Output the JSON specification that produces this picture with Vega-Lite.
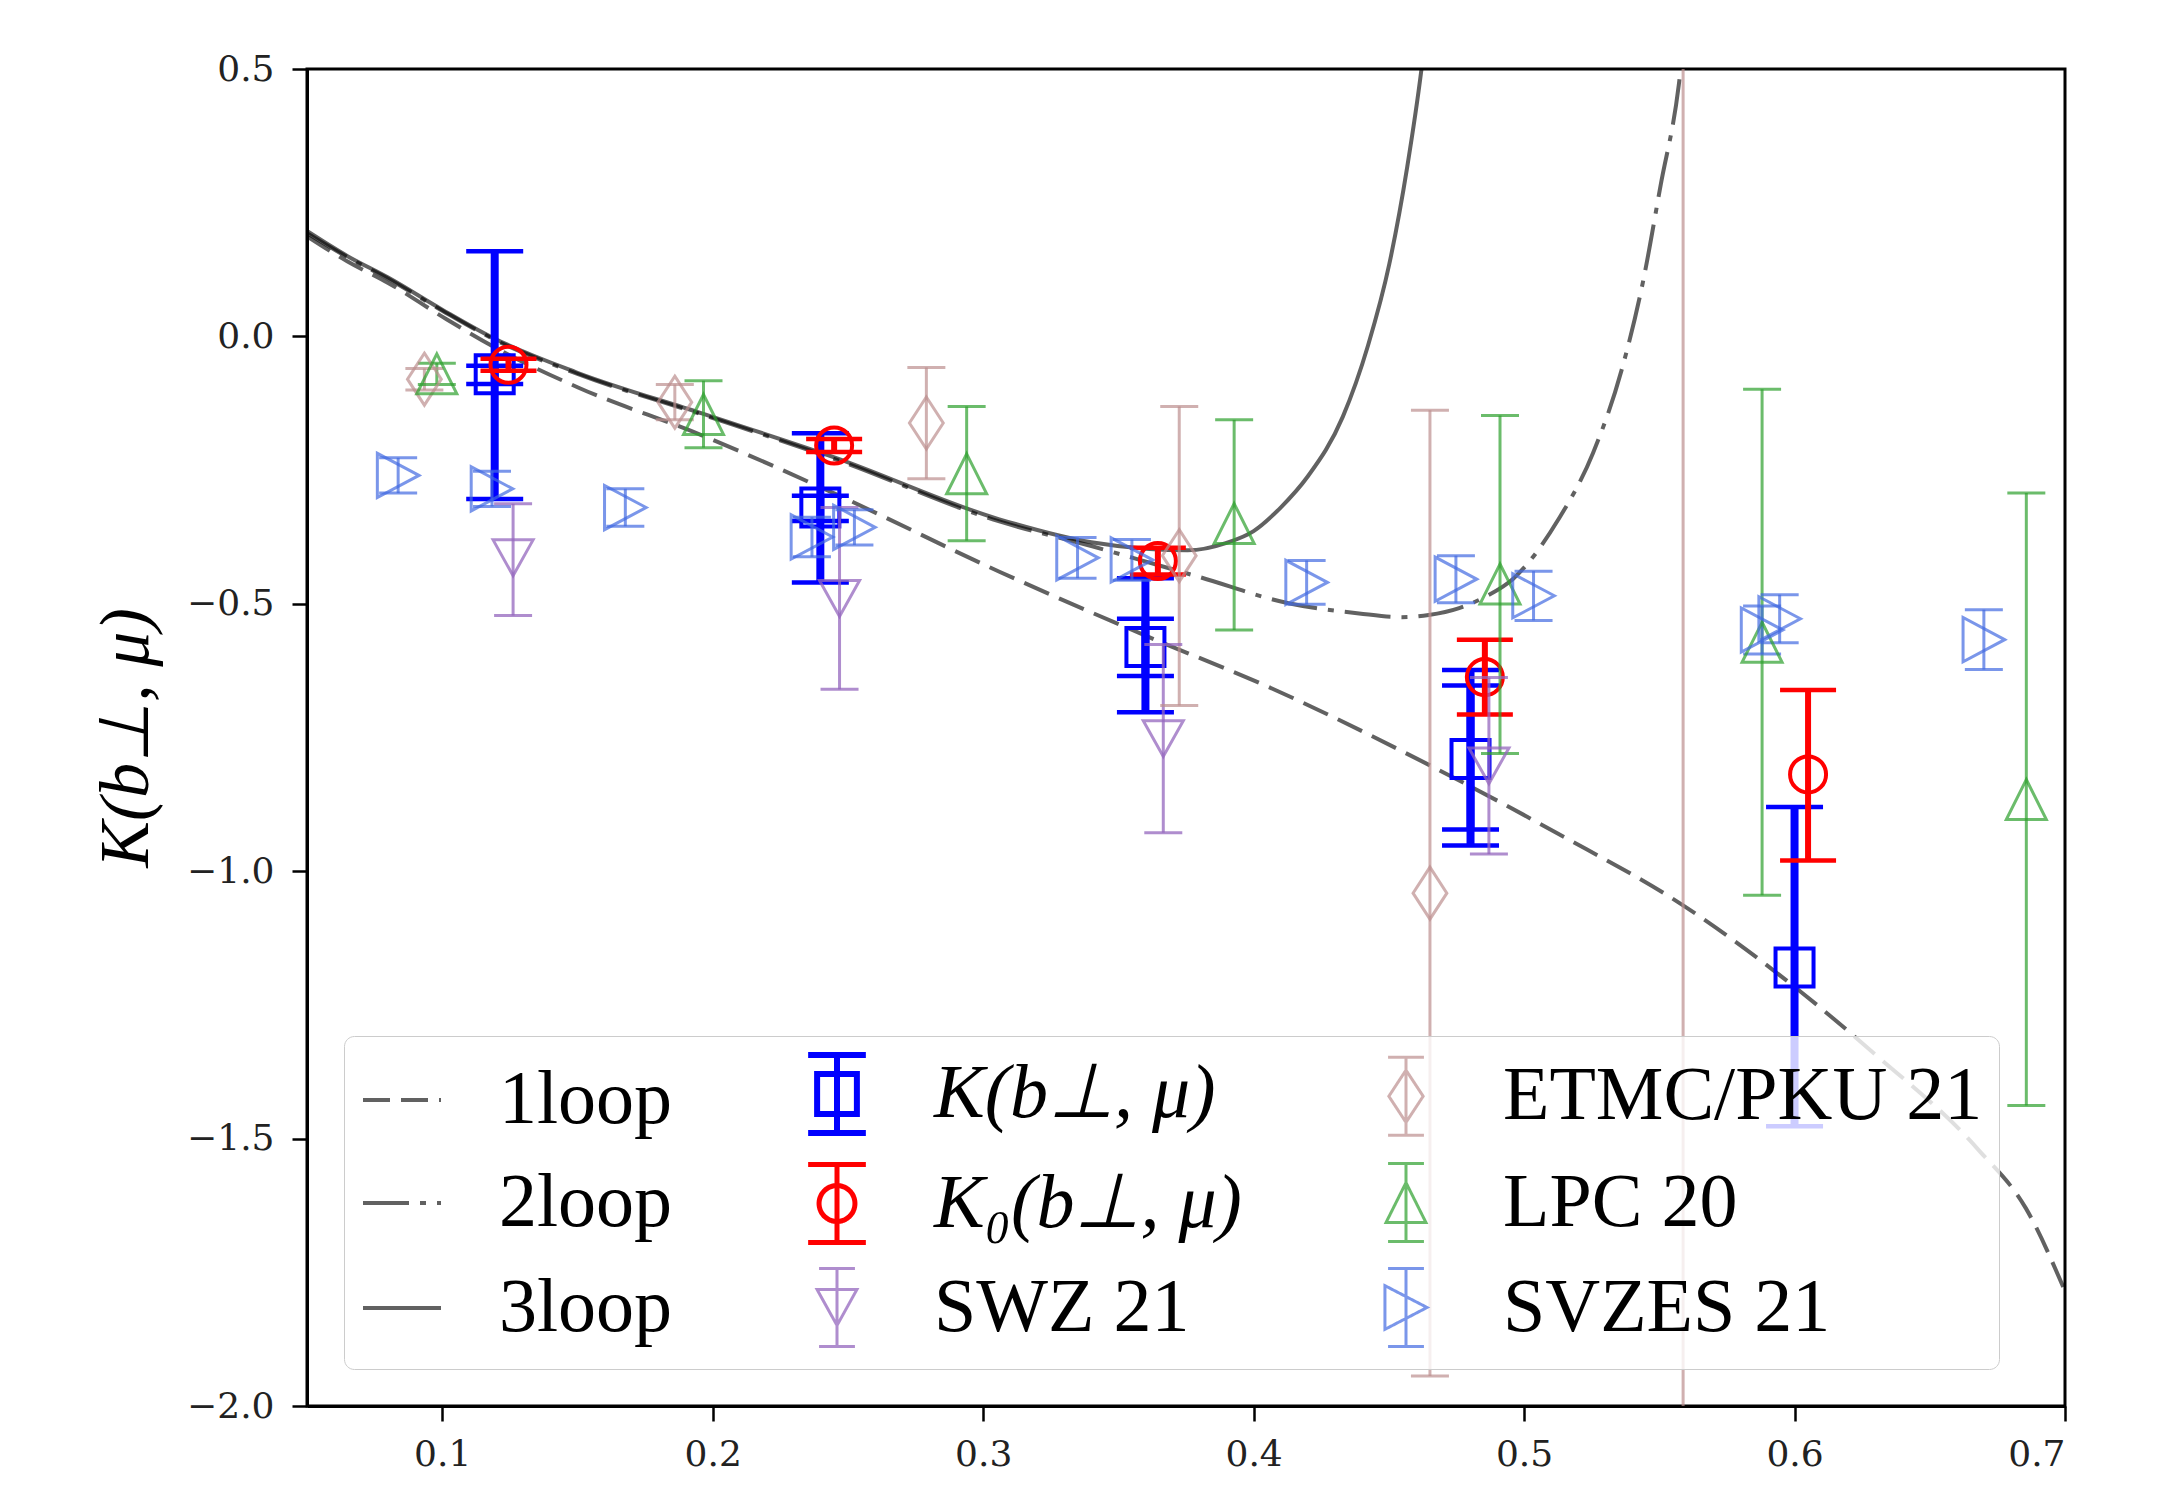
{
  "$schema": "https://vega.github.io/schema/vega-lite/v6.json",
  "width": 1758,
  "height": 1337,
  "autosize": {"type": "none"},
  "padding": {"left": 307, "top": 69, "right": 103, "bottom": 84},
  "background": "white",
  "config": {
    "view": {"stroke": "black", "strokeWidth": 3},
    "axis": {"grid": false, "domainColor": "black", "domainWidth": 3, "tickColor": "black", "tickWidth": 2.5, "tickSize": 15, "labelFont": "DejaVu Serif", "labelFontSize": 36, "labelColor": "#222222", "labelPadding": 18},
    "axisY": {"titleFont": "Liberation Serif", "titleFontSize": 70, "titleFontStyle": "italic", "titleFontWeight": "normal", "titleColor": "black", "titlePadding": 24},
    "axisX": {"labelPadding": 16},
    "legend": {
      "orient": "bottom-left",
      "offset": 37,
      "columns": 3,
      "padding": 16,
      "rowPadding": 9,
      "columnPadding": 122,
      "symbolSize": 6084,
      "symbolStrokeWidth": 3,
      "symbolFillColor": "transparent",
      "labelFont": "Liberation Serif",
      "labelFontSize": 76,
      "labelColor": "black",
      "labelOffset": 55,
      "labelLimit": 1000,
      "fillColor": "rgba(255,255,255,0.8)",
      "strokeColor": "#cccccc",
      "cornerRadius": 10
    }
  },
  "datasets": {
    "points": [
      {"series": "K(b⊥, μ)", "b": 0.1194, "K": -0.071, "lo": -0.304, "hi": 0.159, "lo2": -0.089, "hi2": -0.055},
      {"series": "K(b⊥, μ)", "b": 0.2398, "K": -0.320, "lo": -0.460, "hi": -0.181, "lo2": -0.345, "hi2": -0.298},
      {"series": "K(b⊥, μ)", "b": 0.3600, "K": -0.581, "lo": -0.703, "hi": -0.452, "lo2": -0.635, "hi2": -0.528},
      {"series": "K(b⊥, μ)", "b": 0.4802, "K": -0.790, "lo": -0.952, "hi": -0.624, "lo2": -0.922, "hi2": -0.653},
      {"series": "K(b⊥, μ)", "b": 0.6000, "K": -1.180, "lo": -1.477, "hi": -0.880},
      {"series": "K₀(b⊥, μ)", "b": 0.1245, "K": -0.053, "lo": -0.064, "hi": -0.042},
      {"series": "K₀(b⊥, μ)", "b": 0.2449, "K": -0.204, "lo": -0.216, "hi": -0.192},
      {"series": "K₀(b⊥, μ)", "b": 0.3646, "K": -0.420, "lo": -0.445, "hi": -0.395},
      {"series": "K₀(b⊥, μ)", "b": 0.4855, "K": -0.637, "lo": -0.707, "hi": -0.567},
      {"series": "K₀(b⊥, μ)", "b": 0.6050, "K": -0.819, "lo": -0.980, "hi": -0.661},
      {"series": "SWZ 21", "b": 0.1262, "K": -0.414, "lo": -0.522, "hi": -0.313},
      {"series": "SWZ 21", "b": 0.2469, "K": -0.490, "lo": -0.660, "hi": -0.320},
      {"series": "SWZ 21", "b": 0.3666, "K": -0.752, "lo": -0.928, "hi": -0.576},
      {"series": "SWZ 21", "b": 0.4870, "K": -0.803, "lo": -0.968, "hi": -0.638},
      {"series": "ETMC/PKU 21", "b": 0.0934, "K": -0.080, "lo": -0.100, "hi": -0.060},
      {"series": "ETMC/PKU 21", "b": 0.1860, "K": -0.123, "lo": -0.156, "hi": -0.090},
      {"series": "ETMC/PKU 21", "b": 0.2790, "K": -0.162, "lo": -0.266, "hi": -0.058},
      {"series": "ETMC/PKU 21", "b": 0.3725, "K": -0.410, "lo": -0.690, "hi": -0.131},
      {"series": "ETMC/PKU 21", "b": 0.4652, "K": -1.041, "lo": -1.944, "hi": -0.138},
      {"series": "ETMC/PKU 21", "b": 0.5588, "K": -2.300, "lo": -5.500, "hi": 0.900},
      {"series": "LPC 20", "b": 0.0980, "K": -0.070, "lo": -0.090, "hi": -0.050},
      {"series": "LPC 20", "b": 0.1966, "K": -0.146, "lo": -0.208, "hi": -0.083},
      {"series": "LPC 20", "b": 0.2939, "K": -0.257, "lo": -0.382, "hi": -0.131},
      {"series": "LPC 20", "b": 0.3928, "K": -0.350, "lo": -0.549, "hi": -0.156},
      {"series": "LPC 20", "b": 0.4911, "K": -0.463, "lo": -0.780, "hi": -0.148},
      {"series": "LPC 20", "b": 0.5880, "K": -0.572, "lo": -1.045, "hi": -0.099},
      {"series": "LPC 20", "b": 0.6857, "K": -0.866, "lo": -1.438, "hi": -0.293},
      {"series": "SVZES 21", "b": 0.0837, "K": -0.260, "lo": -0.293, "hi": -0.227},
      {"series": "SVZES 21", "b": 0.1184, "K": -0.285, "lo": -0.318, "hi": -0.252},
      {"series": "SVZES 21", "b": 0.1677, "K": -0.320, "lo": -0.355, "hi": -0.285},
      {"series": "SVZES 21", "b": 0.2367, "K": -0.375, "lo": -0.412, "hi": -0.338},
      {"series": "SVZES 21", "b": 0.2524, "K": -0.357, "lo": -0.390, "hi": -0.324},
      {"series": "SVZES 21", "b": 0.3349, "K": -0.414, "lo": -0.452, "hi": -0.376},
      {"series": "SVZES 21", "b": 0.3550, "K": -0.418, "lo": -0.456, "hi": -0.380},
      {"series": "SVZES 21", "b": 0.4196, "K": -0.460, "lo": -0.501, "hi": -0.419},
      {"series": "SVZES 21", "b": 0.4748, "K": -0.454, "lo": -0.498, "hi": -0.410},
      {"series": "SVZES 21", "b": 0.5035, "K": -0.485, "lo": -0.531, "hi": -0.439},
      {"series": "SVZES 21", "b": 0.5880, "K": -0.549, "lo": -0.594, "hi": -0.504},
      {"series": "SVZES 21", "b": 0.5945, "K": -0.528, "lo": -0.573, "hi": -0.483},
      {"series": "SVZES 21", "b": 0.6700, "K": -0.567, "lo": -0.623, "hi": -0.511}
    ],
    "curves": [
      {"series": "1loop", "b": 0.050, "K": 0.187},
      {"series": "1loop", "b": 0.065, "K": 0.140},
      {"series": "1loop", "b": 0.080, "K": 0.100},
      {"series": "1loop", "b": 0.100, "K": 0.037},
      {"series": "1loop", "b": 0.1185, "K": -0.018},
      {"series": "1loop", "b": 0.150, "K": -0.095},
      {"series": "1loop", "b": 0.196, "K": -0.185},
      {"series": "1loop", "b": 0.2455, "K": -0.295},
      {"series": "1loop", "b": 0.306, "K": -0.440},
      {"series": "1loop", "b": 0.3607, "K": -0.561},
      {"series": "1loop", "b": 0.4053, "K": -0.655},
      {"series": "1loop", "b": 0.4655, "K": -0.803},
      {"series": "1loop", "b": 0.5126, "K": -0.930},
      {"series": "1loop", "b": 0.5585, "K": -1.063},
      {"series": "1loop", "b": 0.6017, "K": -1.223},
      {"series": "1loop", "b": 0.629, "K": -1.339},
      {"series": "1loop", "b": 0.668, "K": -1.521},
      {"series": "1loop", "b": 0.6855, "K": -1.630},
      {"series": "1loop", "b": 0.700, "K": -1.785},
      {"series": "2loop", "b": 0.050, "K": 0.193},
      {"series": "2loop", "b": 0.065, "K": 0.148},
      {"series": "2loop", "b": 0.080, "K": 0.108},
      {"series": "2loop", "b": 0.100, "K": 0.048},
      {"series": "2loop", "b": 0.1185, "K": -0.004},
      {"series": "2loop", "b": 0.150, "K": -0.070},
      {"series": "2loop", "b": 0.196, "K": -0.146},
      {"series": "2loop", "b": 0.2455, "K": -0.230},
      {"series": "2loop", "b": 0.306, "K": -0.346},
      {"series": "2loop", "b": 0.340, "K": -0.392},
      {"series": "2loop", "b": 0.356, "K": -0.415},
      {"series": "2loop", "b": 0.380, "K": -0.450},
      {"series": "2loop", "b": 0.4129, "K": -0.499},
      {"series": "2loop", "b": 0.439, "K": -0.518},
      {"series": "2loop", "b": 0.4548, "K": -0.525},
      {"series": "2loop", "b": 0.4647, "K": -0.521},
      {"series": "2loop", "b": 0.476, "K": -0.508},
      {"series": "2loop", "b": 0.486, "K": -0.486},
      {"series": "2loop", "b": 0.496, "K": -0.453},
      {"series": "2loop", "b": 0.5126, "K": -0.343},
      {"series": "2loop", "b": 0.5255, "K": -0.218},
      {"series": "2loop", "b": 0.536, "K": -0.064},
      {"series": "2loop", "b": 0.544, "K": 0.103},
      {"series": "2loop", "b": 0.5505, "K": 0.283},
      {"series": "2loop", "b": 0.5572, "K": 0.470},
      {"series": "2loop", "b": 0.559, "K": 0.550},
      {"series": "3loop", "b": 0.050, "K": 0.197},
      {"series": "3loop", "b": 0.065, "K": 0.150},
      {"series": "3loop", "b": 0.080, "K": 0.110},
      {"series": "3loop", "b": 0.100, "K": 0.050},
      {"series": "3loop", "b": 0.1185, "K": -0.002},
      {"series": "3loop", "b": 0.150, "K": -0.068},
      {"series": "3loop", "b": 0.196, "K": -0.144},
      {"series": "3loop", "b": 0.2455, "K": -0.227},
      {"series": "3loop", "b": 0.306, "K": -0.342},
      {"series": "3loop", "b": 0.340, "K": -0.385},
      {"series": "3loop", "b": 0.360, "K": -0.397},
      {"series": "3loop", "b": 0.3756, "K": -0.400},
      {"series": "3loop", "b": 0.390, "K": -0.386},
      {"series": "3loop", "b": 0.400, "K": -0.364},
      {"series": "3loop", "b": 0.410, "K": -0.320},
      {"series": "3loop", "b": 0.420, "K": -0.262},
      {"series": "3loop", "b": 0.433, "K": -0.150},
      {"series": "3loop", "b": 0.4423, "K": -0.017},
      {"series": "3loop", "b": 0.4502, "K": 0.136},
      {"series": "3loop", "b": 0.4568, "K": 0.317},
      {"series": "3loop", "b": 0.462, "K": 0.497},
      {"series": "3loop", "b": 0.4635, "K": 0.560}
    ]
  },
  "encoding": {
    "x": {"field": "b", "type": "quantitative", "scale": {"domain": [0.05, 0.7], "nice": false, "zero": false}, "axis": {"values": [0.1, 0.2, 0.3, 0.4, 0.5, 0.6, 0.7], "format": ".1f", "title": null}}
  },
  "layer": [
    {
      "data": {"name": "curves"},
      "transform": [{"filter": "datum.series == '1loop'"}],
      "mark": {"type": "line", "strokeWidth": 4, "strokeDash": [27, 11], "clip": true, "interpolate": "monotone"},
      "encoding": {
        "y": {"field": "K", "type": "quantitative", "scale": {"domain": [-2, 0.5], "nice": false, "zero": false}, "axis": {"values": [-2, -1.5, -1, -0.5, 0, 0.5], "format": ".1f"}, "title": "K(b⊥, μ)"},
        "color": {"field": "series", "type": "nominal",
          "legend": {"title": null, "encode": {"labels": {"update": {"fontStyle": {"signal": "indexof(datum.value, 'K') == 0 ? 'italic' : 'normal'"}}}}},
          "scale": {"domain": ["1loop", "2loop", "3loop", "K(b⊥, μ)", "K₀(b⊥, μ)", "SWZ 21", "ETMC/PKU 21", "LPC 20", "SVZES 21"],
                    "range": ["rgba(0,0,0,0.62)", "rgba(0,0,0,0.62)", "rgba(0,0,0,0.62)", "#0000ff", "#ff0000", "rgba(148,103,189,0.75)", "rgba(188,143,143,0.7)", "rgba(44,160,44,0.7)", "rgba(65,105,225,0.7)"]}}
      }
    },
    {
      "data": {"name": "curves"},
      "transform": [{"filter": "datum.series == '2loop'"}],
      "mark": {"type": "line", "strokeWidth": 4, "strokeDash": [46, 11, 6, 11], "clip": true, "interpolate": "monotone"},
      "encoding": {
        "y": {"field": "K", "type": "quantitative", "scale": {"domain": [-2, 0.5], "nice": false, "zero": false}, "title": "K(b⊥, μ)"},
        "color": {"field": "series", "type": "nominal", "legend": {"title": null},
          "scale": {"domain": ["1loop", "2loop", "3loop", "K(b⊥, μ)", "K₀(b⊥, μ)", "SWZ 21", "ETMC/PKU 21", "LPC 20", "SVZES 21"],
                    "range": ["rgba(0,0,0,0.62)", "rgba(0,0,0,0.62)", "rgba(0,0,0,0.62)", "#0000ff", "#ff0000", "rgba(148,103,189,0.75)", "rgba(188,143,143,0.7)", "rgba(44,160,44,0.7)", "rgba(65,105,225,0.7)"]}}
      }
    },
    {
      "data": {"name": "curves"},
      "transform": [{"filter": "datum.series == '3loop'"}],
      "mark": {"type": "line", "strokeWidth": 4, "clip": true, "interpolate": "monotone"},
      "encoding": {
        "y": {"field": "K", "type": "quantitative", "scale": {"domain": [-2, 0.5], "nice": false, "zero": false}, "title": "K(b⊥, μ)"},
        "color": {"field": "series", "type": "nominal", "legend": {"title": null},
          "scale": {"domain": ["1loop", "2loop", "3loop", "K(b⊥, μ)", "K₀(b⊥, μ)", "SWZ 21", "ETMC/PKU 21", "LPC 20", "SVZES 21"],
                    "range": ["rgba(0,0,0,0.62)", "rgba(0,0,0,0.62)", "rgba(0,0,0,0.62)", "#0000ff", "#ff0000", "rgba(148,103,189,0.75)", "rgba(188,143,143,0.7)", "rgba(44,160,44,0.7)", "rgba(65,105,225,0.7)"]}}
      }
    },
    {
      "data": {"name": "points"},
      "transform": [{"filter": "datum.series == 'K(b⊥, μ)'"}],
      "mark": {"type": "rule", "strokeWidth": 8, "color": "#0000ff", "clip": true},
      "encoding": {"y": {"field": "lo", "type": "quantitative", "scale": {"domain": [-2, 0.5], "nice": false, "zero": false}, "title": "K(b⊥, μ)"}, "y2": {"field": "hi"}}
    },
    {
      "data": {"name": "points"},
      "transform": [{"filter": "datum.series == 'K(b⊥, μ)' && isValid(datum.lo2)"}],
      "mark": {"type": "rule", "strokeWidth": 8, "color": "#0000ff", "clip": true},
      "encoding": {"y": {"field": "lo2", "type": "quantitative", "scale": {"domain": [-2, 0.5], "nice": false, "zero": false}, "title": "K(b⊥, μ)"}, "y2": {"field": "hi2"}}
    },
    {
      "data": {"name": "points"},
      "transform": [{"filter": "datum.series == 'K(b⊥, μ)'"}],
      "mark": {"type": "tick", "orient": "horizontal", "size": 57, "thickness": 4.5, "color": "#0000ff", "opacity": 1, "clip": true},
      "encoding": {"y": {"field": "lo", "type": "quantitative", "scale": {"domain": [-2, 0.5], "nice": false, "zero": false}, "title": "K(b⊥, μ)"}}
    },
    {
      "data": {"name": "points"},
      "transform": [{"filter": "datum.series == 'K(b⊥, μ)'"}],
      "mark": {"type": "tick", "orient": "horizontal", "size": 57, "thickness": 4.5, "color": "#0000ff", "opacity": 1, "clip": true},
      "encoding": {"y": {"field": "hi", "type": "quantitative", "scale": {"domain": [-2, 0.5], "nice": false, "zero": false}, "title": "K(b⊥, μ)"}}
    },
    {
      "data": {"name": "points"},
      "transform": [{"filter": "datum.series == 'K(b⊥, μ)' && isValid(datum.lo2)"}],
      "mark": {"type": "tick", "orient": "horizontal", "size": 57, "thickness": 4.5, "color": "#0000ff", "opacity": 1, "clip": true},
      "encoding": {"y": {"field": "lo2", "type": "quantitative", "scale": {"domain": [-2, 0.5], "nice": false, "zero": false}, "title": "K(b⊥, μ)"}}
    },
    {
      "data": {"name": "points"},
      "transform": [{"filter": "datum.series == 'K(b⊥, μ)' && isValid(datum.hi2)"}],
      "mark": {"type": "tick", "orient": "horizontal", "size": 57, "thickness": 4.5, "color": "#0000ff", "opacity": 1, "clip": true},
      "encoding": {"y": {"field": "hi2", "type": "quantitative", "scale": {"domain": [-2, 0.5], "nice": false, "zero": false}, "title": "K(b⊥, μ)"}}
    },
    {
      "data": {"name": "points"},
      "transform": [{"filter": "datum.series == 'K(b⊥, μ)'"}],
      "mark": {"type": "point", "shape": "square", "size": 1444, "strokeWidth": 4, "filled": false, "color": "#0000ff", "opacity": 1, "clip": true},
      "encoding": {"y": {"field": "K", "type": "quantitative", "scale": {"domain": [-2, 0.5], "nice": false, "zero": false}, "title": "K(b⊥, μ)"}}
    },
    {
      "data": {"name": "points"},
      "transform": [{"filter": "datum.series == 'K₀(b⊥, μ)'"}],
      "mark": {"type": "rule", "strokeWidth": 6, "color": "#ff0000", "clip": true},
      "encoding": {"y": {"field": "lo", "type": "quantitative", "scale": {"domain": [-2, 0.5], "nice": false, "zero": false}, "title": "K(b⊥, μ)"}, "y2": {"field": "hi"}}
    },
    {
      "data": {"name": "points"},
      "transform": [{"filter": "datum.series == 'K₀(b⊥, μ)'"}],
      "mark": {"type": "tick", "orient": "horizontal", "size": 56, "thickness": 4.5, "color": "#ff0000", "opacity": 1, "clip": true},
      "encoding": {"y": {"field": "lo", "type": "quantitative", "scale": {"domain": [-2, 0.5], "nice": false, "zero": false}, "title": "K(b⊥, μ)"}}
    },
    {
      "data": {"name": "points"},
      "transform": [{"filter": "datum.series == 'K₀(b⊥, μ)'"}],
      "mark": {"type": "tick", "orient": "horizontal", "size": 56, "thickness": 4.5, "color": "#ff0000", "opacity": 1, "clip": true},
      "encoding": {"y": {"field": "hi", "type": "quantitative", "scale": {"domain": [-2, 0.5], "nice": false, "zero": false}, "title": "K(b⊥, μ)"}}
    },
    {
      "data": {"name": "points"},
      "transform": [{"filter": "datum.series == 'K₀(b⊥, μ)'"}],
      "mark": {"type": "point", "shape": "circle", "size": 1296, "strokeWidth": 4, "filled": false, "color": "#ff0000", "opacity": 1, "clip": true},
      "encoding": {"y": {"field": "K", "type": "quantitative", "scale": {"domain": [-2, 0.5], "nice": false, "zero": false}, "title": "K(b⊥, μ)"}}
    },
    {
      "data": {"name": "points"},
      "transform": [{"filter": "datum.series != 'K(b⊥, μ)' && datum.series != 'K₀(b⊥, μ)'"}],
      "mark": {"type": "rule", "strokeWidth": 3, "clip": true},
      "encoding": {
        "y": {"field": "lo", "type": "quantitative", "scale": {"domain": [-2, 0.5], "nice": false, "zero": false}, "title": "K(b⊥, μ)"}, "y2": {"field": "hi"},
        "stroke": {"field": "series", "type": "nominal", "legend": null,
          "scale": {"domain": ["SWZ 21", "ETMC/PKU 21", "LPC 20", "SVZES 21"], "range": ["rgba(148,103,189,0.75)", "rgba(188,143,143,0.7)", "rgba(44,160,44,0.7)", "rgba(65,105,225,0.7)"]}}
      }
    },
    {
      "data": {"name": "points"},
      "transform": [{"filter": "datum.series != 'K(b⊥, μ)' && datum.series != 'K₀(b⊥, μ)'"}],
      "mark": {"type": "tick", "orient": "horizontal", "size": 38, "thickness": 3, "opacity": 1, "clip": true},
      "encoding": {
        "y": {"field": "lo", "type": "quantitative", "scale": {"domain": [-2, 0.5], "nice": false, "zero": false}, "title": "K(b⊥, μ)"},
        "fill": {"field": "series", "type": "nominal", "legend": null,
          "scale": {"domain": ["SWZ 21", "ETMC/PKU 21", "LPC 20", "SVZES 21"], "range": ["rgba(148,103,189,0.75)", "rgba(188,143,143,0.7)", "rgba(44,160,44,0.7)", "rgba(65,105,225,0.7)"]}}
      }
    },
    {
      "data": {"name": "points"},
      "transform": [{"filter": "datum.series != 'K(b⊥, μ)' && datum.series != 'K₀(b⊥, μ)'"}],
      "mark": {"type": "tick", "orient": "horizontal", "size": 38, "thickness": 3, "opacity": 1, "clip": true},
      "encoding": {
        "y": {"field": "hi", "type": "quantitative", "scale": {"domain": [-2, 0.5], "nice": false, "zero": false}, "title": "K(b⊥, μ)"},
        "fill": {"field": "series", "type": "nominal", "legend": null,
          "scale": {"domain": ["SWZ 21", "ETMC/PKU 21", "LPC 20", "SVZES 21"], "range": ["rgba(148,103,189,0.75)", "rgba(188,143,143,0.7)", "rgba(44,160,44,0.7)", "rgba(65,105,225,0.7)"]}}
      }
    },
    {
      "data": {"name": "points"},
      "transform": [{"filter": "datum.series == 'SWZ 21'"}],
      "mark": {"type": "point", "shape": "M-0.77,-0.69L0.77,-0.69L0,0.69Z", "size": 2704, "strokeWidth": 3, "filled": false, "color": "rgba(148,103,189,0.75)", "opacity": 1, "clip": true},
      "encoding": {"y": {"field": "K", "type": "quantitative", "scale": {"domain": [-2, 0.5], "nice": false, "zero": false}, "title": "K(b⊥, μ)"}}
    },
    {
      "data": {"name": "points"},
      "transform": [{"filter": "datum.series == 'ETMC/PKU 21'"}],
      "mark": {"type": "point", "shape": "M0,-1L0.65,0L0,1L-0.65,0Z", "size": 2704, "strokeWidth": 3, "filled": false, "color": "rgba(188,143,143,0.7)", "opacity": 1, "clip": true},
      "encoding": {"y": {"field": "K", "type": "quantitative", "scale": {"domain": [-2, 0.5], "nice": false, "zero": false}, "title": "K(b⊥, μ)"}}
    },
    {
      "data": {"name": "points"},
      "transform": [{"filter": "datum.series == 'LPC 20'"}],
      "mark": {"type": "point", "shape": "M0,-0.77L0.77,0.77L-0.77,0.77Z", "size": 2704, "strokeWidth": 3, "filled": false, "color": "rgba(44,160,44,0.7)", "opacity": 1, "clip": true},
      "encoding": {"y": {"field": "K", "type": "quantitative", "scale": {"domain": [-2, 0.5], "nice": false, "zero": false}, "title": "K(b⊥, μ)"}}
    },
    {
      "data": {"name": "points"},
      "transform": [{"filter": "datum.series == 'SVZES 21'"}],
      "mark": {"type": "point", "shape": "M0.8,0L-0.8,-0.85L-0.8,0.85Z", "size": 2704, "strokeWidth": 3, "filled": false, "color": "rgba(65,105,225,0.7)", "opacity": 1, "clip": true},
      "encoding": {"y": {"field": "K", "type": "quantitative", "scale": {"domain": [-2, 0.5], "nice": false, "zero": false}, "title": "K(b⊥, μ)"}}
    },
    {
      "data": {"name": "points"},
      "transform": [{"filter": "false"}],
      "mark": {"type": "point", "filled": false, "opacity": 1},
      "encoding": {
        "y": {"field": "K", "type": "quantitative", "scale": {"domain": [-2, 0.5], "nice": false, "zero": false}, "title": "K(b⊥, μ)"},
        "color": {"field": "series", "type": "nominal", "legend": {"title": null},
          "scale": {"domain": ["1loop", "2loop", "3loop", "K(b⊥, μ)", "K₀(b⊥, μ)", "SWZ 21", "ETMC/PKU 21", "LPC 20", "SVZES 21"],
                    "range": ["rgba(0,0,0,0.62)", "rgba(0,0,0,0.62)", "rgba(0,0,0,0.62)", "#0000ff", "#ff0000", "rgba(148,103,189,0.75)", "rgba(188,143,143,0.7)", "rgba(44,160,44,0.7)", "rgba(65,105,225,0.7)"]}},
        "shape": {"field": "series", "type": "nominal", "legend": {"title": null},
          "scale": {"domain": ["1loop", "2loop", "3loop", "K(b⊥, μ)", "K₀(b⊥, μ)", "SWZ 21", "ETMC/PKU 21", "LPC 20", "SVZES 21"],
                    "range": [
                      "M-1,0H1",
                      "M-1,0H1",
                      "M-1,0H1",
                      "M-0.74,-1H0.74M0,-1V1M-0.74,1H0.74M-0.51,-0.51H0.51V0.51H-0.51Z",
                      "M-0.74,-1H0.74M0,-1V1M-0.74,1H0.74M0.46,0A0.46,0.46,0,1,1,-0.46,0A0.46,0.46,0,1,1,0.46,0Z",
                      "M-0.46,-1H0.46M0,-1V1M-0.46,1H0.46M-0.51,-0.46L0.51,-0.46L0,0.46Z",
                      "M-0.46,-1H0.46M0,-1V1M-0.46,1H0.46M0,-0.67L0.44,0L0,0.67L-0.44,0Z",
                      "M-0.46,-1H0.46M0,-1V1M-0.46,1H0.46M0,-0.51L0.51,0.51L-0.51,0.51Z",
                      "M-0.46,-1H0.46M0,-1V1M-0.46,1H0.46M0.54,0L-0.54,-0.56L-0.54,0.56Z"
                    ]}},
        "strokeDash": {"field": "series", "type": "nominal", "legend": {"title": null},
          "scale": {"domain": ["1loop", "2loop", "3loop", "K(b⊥, μ)", "K₀(b⊥, μ)", "SWZ 21", "ETMC/PKU 21", "LPC 20", "SVZES 21"],
                    "range": [[27, 11], [46, 11, 6, 11], [1, 0], [1, 0], [1, 0], [1, 0], [1, 0], [1, 0], [1, 0]]}},
        "strokeWidth": {"field": "series", "type": "nominal", "legend": {"title": null},
          "scale": {"type": "ordinal", "domain": ["1loop", "2loop", "3loop", "K(b⊥, μ)", "K₀(b⊥, μ)", "SWZ 21", "ETMC/PKU 21", "LPC 20", "SVZES 21"],
                    "range": [4, 4, 4, 6, 5, 3, 3, 3, 3]}}
      }
    }
  ]
}
